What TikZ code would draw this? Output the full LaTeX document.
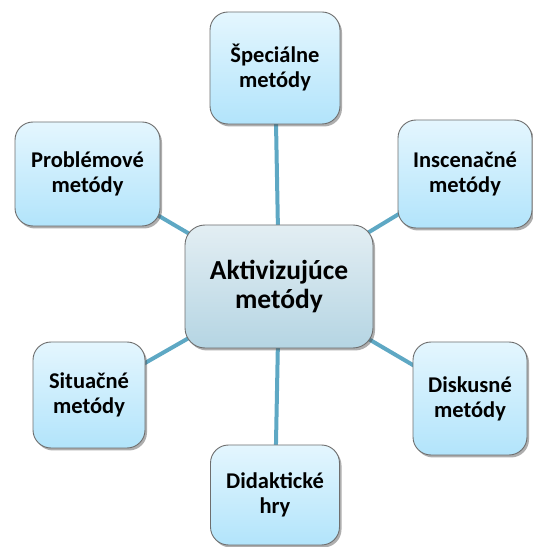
\documentclass[tikz,border=0pt]{standalone}
\usepackage{fontspec}
\setmainfont{Carlito}
\usetikzlibrary{shadows,backgrounds}
\definecolor{linkc}{HTML}{5EA8C4}
\definecolor{boxtop}{HTML}{E4F6FE}
\definecolor{boxbot}{HTML}{B2E4FB}
\definecolor{ctop}{HTML}{E3EEF3}
\definecolor{cbot}{HTML}{B5D5E3}
\definecolor{edgec}{HTML}{6E6E6E}
\tikzset{
  sat/.style={draw=edgec, line width=0.9pt, rounded corners=18pt,
    top color=boxtop, bottom color=boxbot, align=center,
    font=\fontsize{22.5}{25}\selectfont\bfseries,
    drop shadow={shadow xshift=2pt, shadow yshift=-2.5pt, opacity=0.45, fill=black!70},
    inner sep=0pt},
  hub/.style={draw=edgec, line width=0.9pt, rounded corners=20pt,
    top color=ctop, bottom color=cbot, align=center,
    font=\fontsize{27.5}{29}\selectfont\bfseries,
    drop shadow={shadow xshift=2pt, shadow yshift=-2.5pt, opacity=0.45, fill=black!70},
    inner sep=0pt},
  link/.style={draw=linkc, line width=4pt}
}
\begin{document}
\begin{tikzpicture}[x=1pt,y=1pt]
\useasboundingbox (0,0) rectangle (533,547);
\node[hub, minimum width=188pt, minimum height=123pt] (c) at (279,260.5) {Aktivizujúce\\metódy};
\node[sat, minimum width=130pt, minimum height=112pt] (t) at (275,479) {Špeciálne\\metódy};
\node[sat, minimum width=145pt, minimum height=104pt] (p) at (87.5,373) {Problémové\\metódy};
\node[sat, minimum width=134pt, minimum height=108pt] (i) at (465,373) {Inscenačné\\metódy};
\node[sat, minimum width=112pt, minimum height=106pt] (s) at (89,152) {Situačné\\metódy};
\node[sat, minimum width=129pt, minimum height=100pt] (d) at (275,52) {Didaktické\\hry};
\node[sat, minimum width=114pt, minimum height=113pt] (k) at (470,148.5) {Diskusné\\metódy};
\begin{scope}[on background layer]
\draw[link] (c.center) -- (t.center);
\draw[link] (c.center) -- (p.center);
\draw[link] (c.center) -- (i.center);
\draw[link] (c.center) -- (s.center);
\draw[link] (c.center) -- (d.center);
\draw[link] (c.center) -- (k.center);
\end{scope}
\end{tikzpicture}
\end{document}
